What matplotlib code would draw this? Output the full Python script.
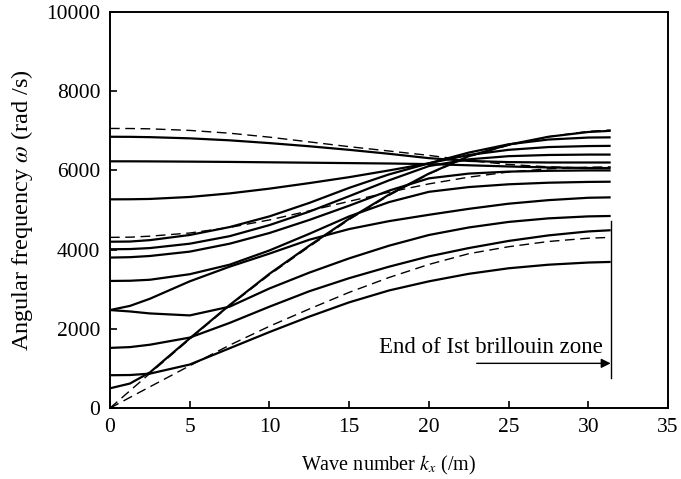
import matplotlib
matplotlib.use("Agg")
import matplotlib.pyplot as plt

plt.rcParams["font.family"] = ["Liberation Serif", "DejaVu Serif"]
plt.rcParams["mathtext.fontset"] = "stix"

# wave number samples (/m), shared by every branch
k = [0, 1.25, 2.5, 5, 7.5, 10, 12.5, 15, 17.5, 20, 22.5, 25, 27.5, 30, 31.4]

# solid branches (rad/s)
solid_branches = [
    [500, 620, 900, 1760, 2600, 3390, 4100, 4780, 5390, 5920, 6360, 6650, 6850, 6970, 7000],
    [830, 835, 870, 1100, 1510, 1920, 2310, 2670, 2970, 3200, 3390, 3530, 3620, 3675, 3690],
    [1520, 1540, 1600, 1780, 2150, 2560, 2950, 3280, 3570, 3830, 4040, 4220, 4360, 4460, 4490],
    [2475, 2440, 2390, 2340, 2560, 3020, 3420, 3780, 4100, 4370, 4560, 4700, 4790, 4840, 4850],
    [2475, 2580, 2760, 3200, 3570, 3900, 4250, 4520, 4720, 4880, 5030, 5160, 5250, 5310, 5320],
    [3210, 3215, 3240, 3380, 3620, 3980, 4400, 4840, 5200, 5460, 5580, 5650, 5690, 5710, 5715],
    [3800, 3810, 3840, 3950, 4150, 4420, 4750, 5110, 5490, 5800, 5920, 5970, 5990, 6000, 6000],
    [4010, 4015, 4040, 4150, 4340, 4620, 4960, 5350, 5750, 6110, 6280, 6360, 6390, 6400, 6400],
    [4200, 4205, 4240, 4370, 4570, 4840, 5180, 5560, 5900, 6180, 6390, 6520, 6590, 6615, 6620],
    [5270, 5272, 5280, 5330, 5420, 5540, 5680, 5830, 6000, 6180, 6450, 6660, 6780, 6830, 6835],
    [6230, 6230, 6228, 6222, 6215, 6205, 6195, 6185, 6175, 6160, 6130, 6100, 6075, 6062, 6060],
    [6850, 6848, 6840, 6810, 6760, 6690, 6610, 6520, 6420, 6310, 6240, 6210, 6200, 6200, 6200],
]

# dashed (uncoupled) branches
dashed_branches = [
    [7060, 7058, 7050, 7010, 6940, 6840, 6720, 6600, 6490, 6380, 6250, 6150, 6090, 6058, 6050],
    [4310, 4315, 4340, 4420, 4560, 4750, 4980, 5220, 5450, 5660, 5830, 5960, 6040, 6080, 6090],
    [0, 438, 875, 1741, 2587, 3366, 4075, 4760, 5370, 5907, 6350, 6636, 6850, 6986, 7020],
    [0, 269, 537, 1069, 1588, 2066, 2502, 2922, 3297, 3627, 3898, 4074, 4206, 4289, 4310],
]

zone_end = 31.4
zone_line = [750, 4720]

fig = plt.figure(figsize=(6.81, 4.79), dpi=100)
ax = fig.add_axes([0.1615, 0.148, 0.8195, 0.827])

for w in solid_branches:
    ax.plot(k, w, color="black", lw=1.6, solid_capstyle="butt")
for w in dashed_branches:
    ax.plot(k, w, color="black", lw=1.0, dashes=(7, 4))

# brillouin zone marker
ax.plot([zone_end, zone_end], zone_line, color="black", lw=1.0)
ax.annotate("", xy=(zone_end, 1130), xytext=(23.0, 1130),
            arrowprops=dict(arrowstyle="-|>", color="black", lw=1.0,
                            mutation_scale=14, shrinkA=0, shrinkB=0))
ax.text(16.9, 1530, "End of Ist brillouin zone", fontsize=16.5,
        ha="left", va="center")

ax.set_xlim(0, 35)
ax.set_ylim(0, 10000)
ax.set_xticks(range(0, 36, 5))
ax.set_yticks(range(0, 10001, 2000))
ax.tick_params(direction="in", length=5, width=1.2, labelsize=15.5, pad=7,
               top=False, right=False)
for s in ax.spines.values():
    s.set_linewidth(1.4)

ax.set_xlabel("Wave number $k_x$ (/m)", fontsize=14.5, labelpad=12)
ax.set_ylabel(r"Angular frequency $\omega$ (rad /s)", fontsize=17.5, labelpad=8)

fig.savefig("out.png", dpi=100)
